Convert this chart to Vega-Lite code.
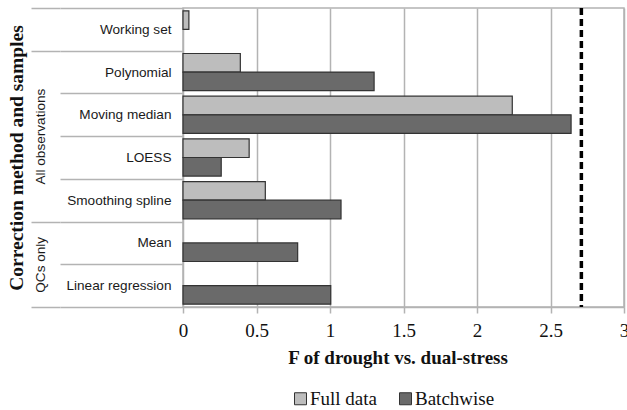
{
  "$schema": "https://vega.github.io/schema/vega-lite/v6.json",
  "width": 441,
  "height": 299,
  "autosize": "none",
  "padding": {"left": 183, "top": 8, "right": 3, "bottom": 103},
  "background": "white",
  "view": {"stroke": "#b3b3b3", "strokeWidth": 1.5},
  "data": {"values": [
    {"method": "Working set", "series": "Full data", "F": 0.04},
    {"method": "Polynomial", "series": "Full data", "F": 0.39},
    {"method": "Polynomial", "series": "Batchwise", "F": 1.30},
    {"method": "Moving median", "series": "Full data", "F": 2.24},
    {"method": "Moving median", "series": "Batchwise", "F": 2.64},
    {"method": "LOESS", "series": "Full data", "F": 0.45},
    {"method": "LOESS", "series": "Batchwise", "F": 0.26},
    {"method": "Smoothing spline", "series": "Full data", "F": 0.56},
    {"method": "Smoothing spline", "series": "Batchwise", "F": 1.075},
    {"method": "Mean", "series": "Batchwise", "F": 0.78},
    {"method": "Linear regression", "series": "Batchwise", "F": 1.005}
  ]},
  "layer": [
    {
      "mark": {"type": "bar", "stroke": "#333333", "strokeWidth": 1.2, "fillOpacity": 1},
      "encoding": {
        "y": {
          "field": "method", "type": "nominal",
          "scale": {"domain": ["Working set", "Polynomial", "Moving median", "LOESS", "Smoothing spline", "Mean", "Linear regression"], "paddingInner": 0, "paddingOuter": 0},
          "axis": {
            "title": "Correction method and samples",
            "titleFont": "Liberation Serif", "titleFontSize": 19.5, "titleFontWeight": "bold", "titleColor": "#111111",
            "titleX": -157, "titleBaseline": "bottom",
            "domain": false, "grid": false,
            "tickBand": "extent", "tickSize": 123, "tickColor": "#b3b3b3", "tickWidth": 1.5,
            "labelPadding": -111, "labelAlign": "right", "labelBaseline": "middle",
            "labelFont": "Liberation Sans", "labelFontSize": 13.6, "labelColor": "#1a1a1a",
            "labelBound": false, "labelOverlap": false
          }
        },
        "yOffset": {
          "field": "series", "type": "nominal",
          "scale": {"domain": ["Full data", "Batchwise"], "paddingInner": 0, "paddingOuter": 0.15}
        },
        "x": {
          "field": "F", "type": "quantitative",
          "scale": {"domain": [0, 3], "nice": false},
          "axis": {
            "title": "F of drought vs. dual-stress",
            "titleFont": "Liberation Serif", "titleFontSize": 19, "titleFontWeight": "bold", "titleColor": "#111111",
            "titlePadding": 8, "titleX": 214.5,
            "values": [0, 0.5, 1, 1.5, 2, 2.5, 3], "format": "~g",
            "grid": true, "gridColor": "#b3b3b3", "gridWidth": 1.5,
            "domainColor": "#b3b3b3", "domainWidth": 1.5,
            "tickSize": 6, "tickColor": "#b3b3b3", "tickWidth": 1.5,
            "labelPadding": 8, "labelFont": "Liberation Serif", "labelFontSize": 19, "labelColor": "#111111",
            "labelFlush": false, "labelOverlap": false
          }
        },
        "color": {
          "field": "series", "type": "nominal",
          "scale": {"domain": ["Full data", "Batchwise"], "range": ["#bdbdbd", "#6a6a6a"]},
          "legend": {
            "title": null, "orient": "none", "direction": "horizontal",
            "legendX": 108, "legendY": 381, "padding": 0,
            "symbolType": "square", "symbolSize": 144, "symbolStrokeColor": "#333333", "symbolStrokeWidth": 1, "symbolOpacity": 1,
            "labelFont": "Liberation Serif", "labelFontSize": 19, "labelColor": "#111111", "labelOffset": 0,
            "columnPadding": 18
          }
        }
      }
    },
    {
      "data": {"values": [{"F_critical": 2.71}]},
      "mark": {"type": "rule", "color": "#000000", "strokeWidth": 3.5, "strokeDash": [7, 4]},
      "encoding": {"x": {"field": "F_critical", "type": "quantitative"}}
    },
    {
      "mark": {"type": "text", "text": ""},
      "encoding": {
        "y": {
          "field": "method", "type": "nominal",
          "scale": {"domain": ["Working set", "Polynomial", "Moving median", "LOESS", "Smoothing spline", "Mean", "Linear regression"], "paddingInner": 0, "paddingOuter": 0},
          "axis": {
            "orient": "left", "offset": 123, "title": null,
            "domain": false, "grid": false, "labels": false,
            "tickBand": "extent", "tickSize": 29, "tickWidth": 1.5,
            "tickColor": {"condition": {"test": "indexof(['Polynomial','Moving median','LOESS','Mean'], datum.value) >= 0", "value": "transparent"}, "value": "#b3b3b3"}
          }
        }
      }
    },
    {
      "mark": {"type": "text", "text": ""},
      "encoding": {
        "y": {
          "field": "method", "type": "nominal",
          "scale": {"domain": ["Working set", "Polynomial", "Moving median", "LOESS", "Smoothing spline", "Mean", "Linear regression"], "paddingInner": 0, "paddingOuter": 0},
          "axis": {
            "orient": "left", "offset": 143, "title": null,
            "domain": false, "grid": false, "ticks": false,
            "labelExpr": "datum.value == 'Moving median' ? 'All observations' : datum.value == 'Mean' ? 'QCs only' : ''",
            "labelAngle": -90, "labelAlign": "center", "labelBaseline": "middle",
            "labelOffset": 21.35, "labelPadding": 0,
            "labelFont": "Liberation Sans", "labelFontSize": 13.6, "labelColor": "#1a1a1a",
            "labelBound": false, "labelOverlap": false
          }
        }
      }
    }
  ],
  "resolve": {"scale": {"y": "independent"}, "axis": {"y": "independent"}}
}
